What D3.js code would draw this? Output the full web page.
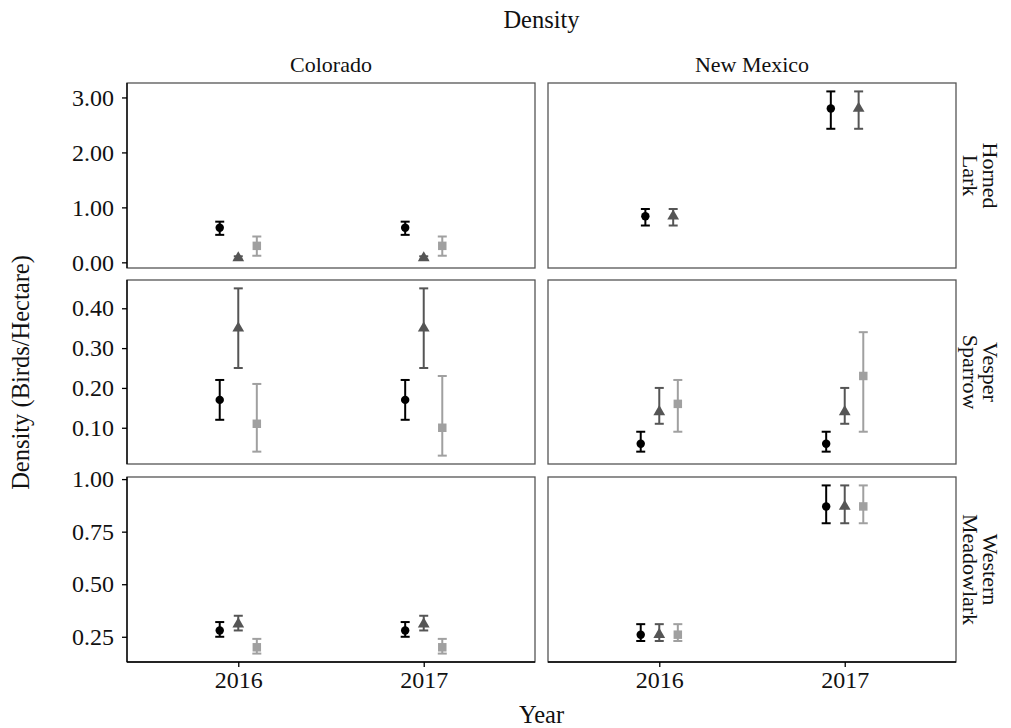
<!DOCTYPE html>
<html>
<head>
<meta charset="utf-8">
<script src="https://cdn.jsdelivr.net/npm/d3@7"></script>
<style>
  html, body { margin: 0; padding: 0; background: #fff; }
  svg { display: block; }
  text { font-family: "Liberation Serif", "Times New Roman", serif; fill: #111; }
</style>
</head>
<body>
<svg id="chart" width="1011" height="728"></svg>
<script>
// ---------------- DATA ----------------
const years = ["2016", "2017"];
const regions = ["Colorado", "New Mexico"];
const speciesLabels = [["Horned", "Lark"], ["Vesper", "Sparrow"], ["Western", "Meadowlark"]];
const seriesNames = ["Series 1", "Series 2", "Series 3"];   // circle, triangle, square
const seriesColors = ["#000000", "#555555", "#a0a0a0"];

// rows: [region, year, seriesIndex, estimate, lower, upper]
const hornedLark = [
  ["Colorado", "2016", 0, 0.63, 0.50, 0.74],
  ["Colorado", "2016", 1, 0.08, 0.05, 0.11],
  ["Colorado", "2016", 2, 0.30, 0.12, 0.47],
  ["Colorado", "2017", 0, 0.63, 0.50, 0.74],
  ["Colorado", "2017", 1, 0.08, 0.05, 0.11],
  ["Colorado", "2017", 2, 0.30, 0.12, 0.47],
  ["New Mexico", "2016", 0, 0.84, 0.67, 0.97],
  ["New Mexico", "2016", 1, 0.84, 0.67, 0.97],
  ["New Mexico", "2017", 0, 2.80, 2.43, 3.11],
  ["New Mexico", "2017", 1, 2.80, 2.43, 3.11]
];
const vesperSparrow = [
  ["Colorado", "2016", 0, 0.17, 0.12, 0.22],
  ["Colorado", "2016", 1, 0.35, 0.25, 0.45],
  ["Colorado", "2016", 2, 0.11, 0.04, 0.21],
  ["Colorado", "2017", 0, 0.17, 0.12, 0.22],
  ["Colorado", "2017", 1, 0.35, 0.25, 0.45],
  ["Colorado", "2017", 2, 0.10, 0.03, 0.23],
  ["New Mexico", "2016", 0, 0.06, 0.04, 0.09],
  ["New Mexico", "2016", 1, 0.14, 0.11, 0.20],
  ["New Mexico", "2016", 2, 0.16, 0.09, 0.22],
  ["New Mexico", "2017", 0, 0.06, 0.04, 0.09],
  ["New Mexico", "2017", 1, 0.14, 0.11, 0.20],
  ["New Mexico", "2017", 2, 0.23, 0.09, 0.34]
];
const westernMeadowlark = [
  ["Colorado", "2016", 0, 0.28, 0.25, 0.32],
  ["Colorado", "2016", 1, 0.31, 0.28, 0.35],
  ["Colorado", "2016", 2, 0.20, 0.17, 0.24],
  ["Colorado", "2017", 0, 0.28, 0.25, 0.32],
  ["Colorado", "2017", 1, 0.31, 0.28, 0.35],
  ["Colorado", "2017", 2, 0.20, 0.17, 0.24],
  ["New Mexico", "2016", 0, 0.26, 0.23, 0.31],
  ["New Mexico", "2016", 1, 0.26, 0.23, 0.31],
  ["New Mexico", "2016", 2, 0.26, 0.23, 0.31],
  ["New Mexico", "2017", 0, 0.87, 0.79, 0.97],
  ["New Mexico", "2017", 1, 0.87, 0.79, 0.97],
  ["New Mexico", "2017", 2, 0.87, 0.79, 0.97]
];
const speciesData = [hornedLark, vesperSparrow, westernMeadowlark];
const yTicks = [[0, 1, 2, 3], [0.1, 0.2, 0.3, 0.4], [0.25, 0.5, 0.75, 1.0]];

const titleText = "Density";
const xTitle = "Year";
const yTitle = "Density (Birds/Hectare)";

// ---------------- LAYOUT ----------------
const svg = d3.select("#chart");
const colX = [[127, 535], [548, 956]];
const rowY = [[83, 268], [280, 464], [477, 662]];
const dodgeWidth = 0.3;    // in units of x steps
const fontTick = 24, fontStrip = 22, fontTitle = 24.5;

const symbolTypes = [d3.symbolCircle, d3.symbolTriangle, d3.symbolSquare];
const symbolSizes = [56, 60, 72];

// Title
svg.append("text").attr("x", (colX[0][0] + colX[1][1]) / 2).attr("y", 28)
  .attr("text-anchor", "middle").style("font-size", fontTitle + "px").text(titleText);
// X title
svg.append("text").attr("x", (colX[0][0] + colX[1][1]) / 2).attr("y", 723)
  .attr("text-anchor", "middle").style("font-size", fontTitle + "px").text(xTitle);
// Y title
svg.append("text").attr("transform", `translate(29,${(rowY[0][0] + rowY[2][1]) / 2}) rotate(-90)`)
  .attr("text-anchor", "middle").style("font-size", fontTitle + "px").text(yTitle);

// Column strips
regions.forEach((r, ci) => {
  svg.append("text").attr("x", (colX[ci][0] + colX[ci][1]) / 2).attr("y", 72)
    .attr("text-anchor", "middle").style("font-size", fontStrip + "px").text(r);
});

speciesData.forEach((data, ri) => {
  const rows = data.map(d => ({ region: d[0], year: d[1], s: d[2], est: d[3], lo: d[4], hi: d[5] }));
  const lo = d3.min(rows, d => d.lo), hi = d3.max(rows, d => d.hi);
  const pad = (hi - lo) * 0.05;
  const y = d3.scaleLinear().domain([lo - pad, hi + pad]).range([rowY[ri][1], rowY[ri][0]]);

  // row strip on right
  const cy = (rowY[ri][0] + rowY[ri][1]) / 2;
  const strip = svg.append("text").attr("transform", `translate(980,${cy}) rotate(90)`)
    .attr("text-anchor", "middle").style("font-size", fontStrip + "px");
  strip.append("tspan").attr("x", 0).attr("y", -10).attr("dominant-baseline", "central").text(speciesLabels[ri][0]);
  strip.append("tspan").attr("x", 0).attr("y", 10).attr("dominant-baseline", "central").text(speciesLabels[ri][1]);

  regions.forEach((region, ci) => {
    const x = d3.scalePoint().domain(years).range(colX[ci]).padding(0.6);
    const g = svg.append("g");
    const [x0, x1] = colX[ci];
    const [y0, y1] = rowY[ri];

    // panel border
    g.append("rect").attr("x", x0).attr("y", y0).attr("width", x1 - x0).attr("height", y1 - y0)
      .attr("fill", "none").attr("stroke", "#555").attr("stroke-width", 1.3);

    // y axis on left column
    if (ci === 0) {
      const ax = g.append("g").attr("transform", `translate(${x0},0)`)
        .call(d3.axisLeft(y).tickValues(yTicks[ri]).tickFormat(d3.format(".2f")).tickSize(5).tickPadding(8).tickSizeOuter(0));
      ax.select(".domain").attr("stroke", "#000").attr("stroke-width", 1.3).attr("d", `M0,${y1}V${y0}`);
      ax.selectAll(".tick line").attr("stroke", "#000").attr("stroke-width", 1.3);
      ax.selectAll(".tick text").style("font-size", fontTick + "px")
        .style("font-family", '"Liberation Serif", serif').attr("fill", "#111");
    }
    // x axis on bottom row
    if (ri === speciesData.length - 1) {
      const ax = g.append("g").attr("transform", `translate(0,${y1})`)
        .call(d3.axisBottom(x).tickSize(5).tickPadding(4).tickSizeOuter(0));
      ax.select(".domain").attr("stroke", "#000").attr("stroke-width", 1.3).attr("d", `M${x0},0H${x1}`);
      ax.selectAll(".tick line").attr("stroke", "#000").attr("stroke-width", 1.3);
      ax.selectAll(".tick text").style("font-size", fontTick + "px")
        .style("font-family", '"Liberation Serif", serif').attr("fill", "#111");
    }

    const pts = rows.filter(d => d.region === region);
    const step = x.step();
    years.forEach(yr => {
      const grp = pts.filter(d => d.year === yr).sort((a, b) => a.s - b.s);
      const n = grp.length;
      const w = dodgeWidth * step;
      grp.forEach((d, i) => {
        const px = x(yr) - w / 2 + (w / n) * (i + 0.5);
        const col = seriesColors[d.s];
        // error bar
        g.append("line").attr("x1", px).attr("x2", px).attr("y1", y(d.lo)).attr("y2", y(d.hi))
          .attr("stroke", col).attr("stroke-width", 2);
        [d.lo, d.hi].forEach(v => {
          g.append("line").attr("x1", px - 4.5).attr("x2", px + 4.5).attr("y1", y(v)).attr("y2", y(v))
            .attr("stroke", col).attr("stroke-width", 2);
        });
        // point
        g.append("path").attr("d", d3.symbol().type(symbolTypes[d.s]).size(symbolSizes[d.s])())
          .attr("transform", `translate(${px},${y(d.est)})`).attr("fill", col);
      });
    });
  });
});
</script>
</body>
</html>
